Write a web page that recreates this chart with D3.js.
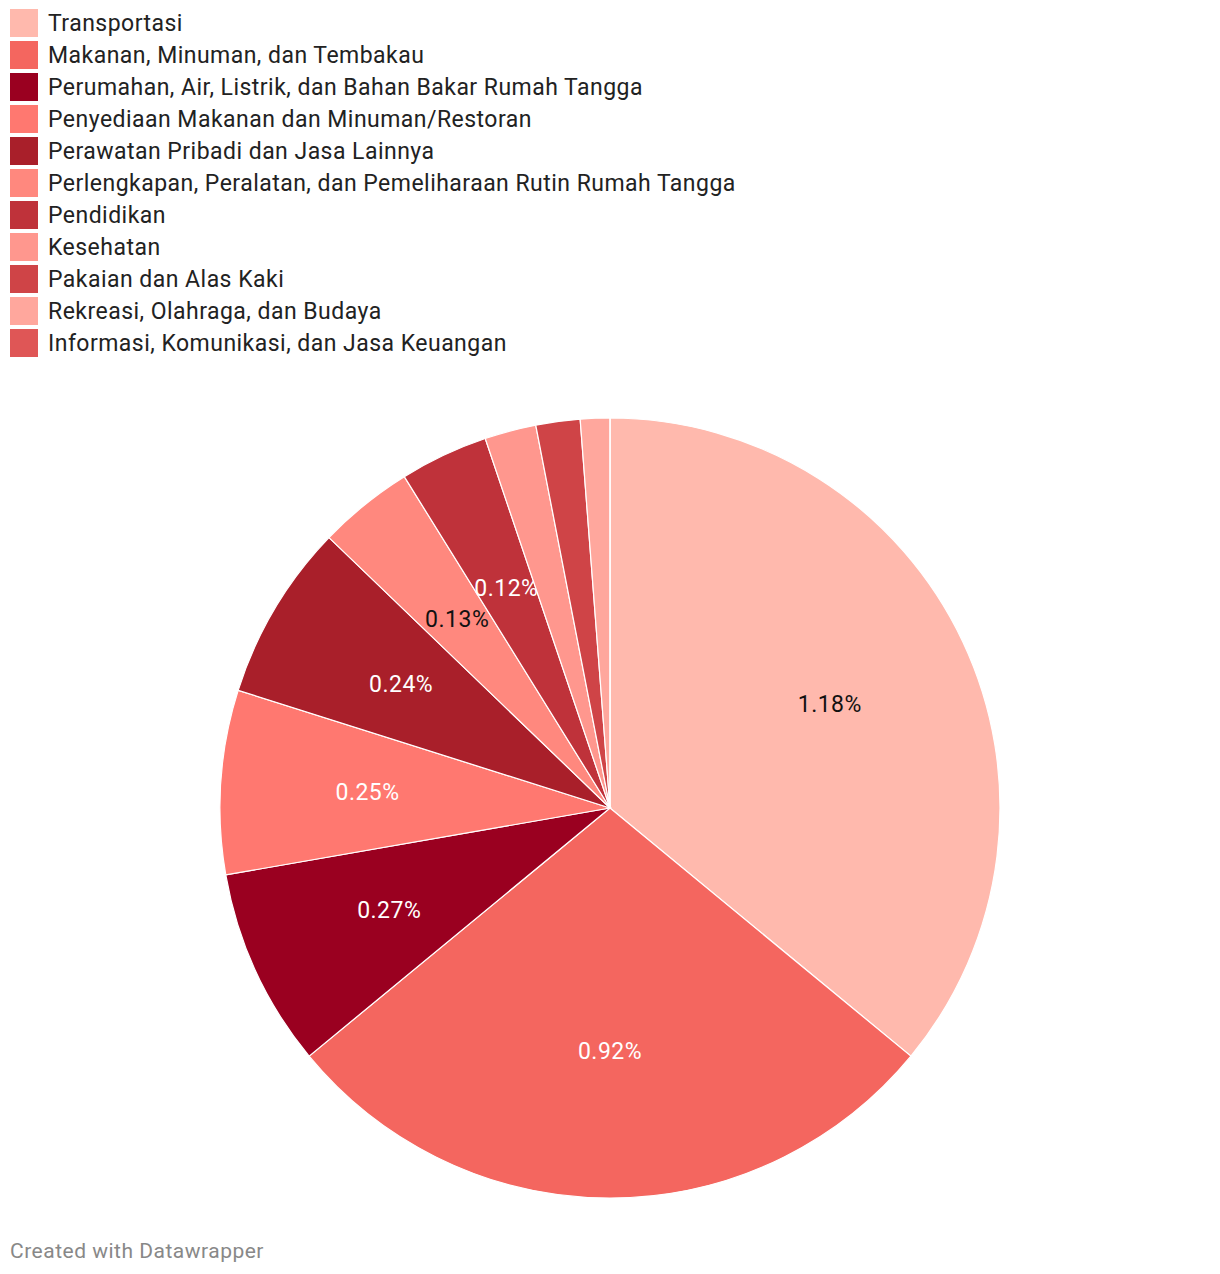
<!DOCTYPE html>
<html>
<head>
<meta charset="utf-8">
<script src="https://cdn.jsdelivr.net/npm/d3@7"></script>
<style>
  html, body { margin: 0; padding: 0; background: #fff; }
  svg { display: block; font-family: Roboto, "Noto Sans", sans-serif; }
</style>
</head>
<body>
<svg id="chart" width="1220" height="1274"></svg>
<script>
const categories = [
  "Transportasi",
  "Makanan, Minuman, dan Tembakau",
  "Perumahan, Air, Listrik, dan Bahan Bakar Rumah Tangga",
  "Penyediaan Makanan dan Minuman/Restoran",
  "Perawatan Pribadi dan Jasa Lainnya",
  "Perlengkapan, Peralatan, dan Pemeliharaan Rutin Rumah Tangga",
  "Pendidikan",
  "Kesehatan",
  "Pakaian dan Alas Kaki",
  "Rekreasi, Olahraga, dan Budaya",
  "Informasi, Komunikasi, dan Jasa Keuangan"
];
const values = [1.18, 0.92, 0.27, 0.25, 0.24, 0.13, 0.12, 0.07, 0.06, 0.04, 0];
const labelShown = [true, true, true, true, true, true, true, false, false, false, false];
const colors = ["#ffb9ad", "#f4665f", "#9a0020", "#ff7870", "#a91f2a", "#ff887e",
                "#bf323a", "#ff978e", "#cf4447", "#ffa79d", "#df5656"];
const labelColors = ["#111", "#fff", "#fff", "#fff", "#fff", "#111", "#fff", "#111", "#fff", "#111", "#fff"];

const svg = d3.select("#chart");

// Legend
const legend = svg.append("g").attr("transform", "translate(10,9)");
const rows = legend.selectAll("g").data(categories).join("g")
  .attr("transform", (d, i) => `translate(0,${i * 32})`);
rows.append("rect").attr("width", 28).attr("height", 28)
  .attr("fill", (d, i) => colors[i]);
rows.append("text").attr("x", 38).attr("y", 14).attr("dy", "0.35em")
  .attr("font-size", 23).attr("letter-spacing", 0.47).attr("fill", "#222").text(d => d);

// Pie
const cx = 610, cy = 808, R = 390;
const data = categories.map((c, i) => ({ name: c, value: values[i], i }));
const pie = d3.pie().value(d => d.value).sort(null);
const arcs = pie(data);
const arc = d3.arc().innerRadius(0).outerRadius(R);
const labelArc = d3.arc().innerRadius(243).outerRadius(243);

const g = svg.append("g").attr("transform", `translate(${cx},${cy})`);
g.selectAll("path").data(arcs).join("path")
  .attr("d", arc)
  .attr("fill", d => colors[d.data.i])
  .attr("stroke", "#fff").attr("stroke-width", 1.2);

g.selectAll("text.lbl").data(arcs.filter(d => labelShown[d.data.i])).join("text")
  .attr("class", "lbl")
  .attr("transform", d => `translate(${labelArc.centroid(d)})`)
  .attr("text-anchor", "middle").attr("dy", "0.35em")
  .attr("font-size", 23).attr("letter-spacing", 0.5)
  .attr("fill", d => labelColors[d.data.i])
  .text(d => d3.format(".2f")(d.data.value) + "%");

// Footer
svg.append("text").attr("x", 10).attr("y", 1258)
  .attr("font-size", 21).attr("letter-spacing", 0.5).attr("fill", "#888")
  .text("Created with Datawrapper");
</script>
</body>
</html>
